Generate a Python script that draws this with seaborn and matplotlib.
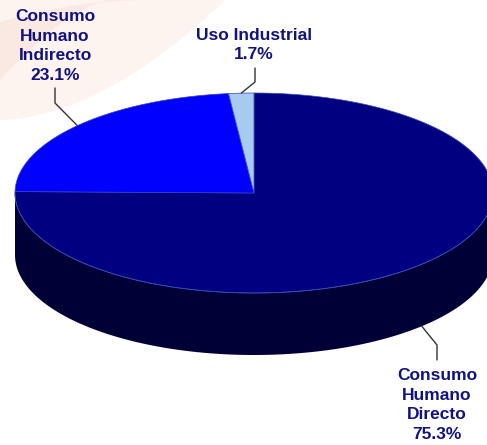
import numpy as np
import matplotlib
matplotlib.use("Agg")
import matplotlib.pyplot as plt
from matplotlib.patches import Polygon
import seaborn as sns

# Destino de la producción (participación %)
categories = ["Consumo Humano Directo", "Consumo Humano Indirecto", "Uso Industrial"]
label_lines = [["Consumo", "Humano", "Directo"],
               ["Consumo", "Humano", "Indirecto"],
               ["Uso Industrial"]]
shares = [75.3, 23.1, 1.7]

sns.set_theme(style="white")
plt.rcParams["font.family"] = ["Liberation Sans", "DejaVu Sans"]

top_colors = sns.color_palette(["#000080", "#0000FF", "#A6CAF0"])
side_colors = [tuple(c * 0.42 for c in col) for col in top_colors]
text_color = "#12127E"

W, H = 487, 445
fig = plt.figure(figsize=(W / 100, H / 100), dpi=100)
ax = fig.add_axes([0, 0, 1, 1])
ax.set_xlim(0, W)
ax.set_ylim(H, 0)
ax.axis("off")

# faint decorative swoosh in the background
t = np.linspace(0, 1, 80)
edge = np.column_stack([225 * (1 - t), 120 * (1 - (1 - t) ** 1.8)])
outer = np.vstack([[[0, 0]], edge])
ax.add_patch(Polygon(outer, closed=True, facecolor="#FDF3EF", lw=0, zorder=0))
inner_top = np.column_stack([150 * t, 22 * (1 - t) ** 2])
inner_bot = np.column_stack([110 * t[::-1], 80 * (1 - t[::-1]) ** 1.5])
ax.add_patch(Polygon(np.vstack([inner_top, inner_bot]), closed=True,
                     facecolor="#FAE9E3", lw=0, zorder=0))

# 3D pie geometry (pixel units, y downwards)
cx, cy = 254, 193
rx, ry = 239, 100
depth = 62


def rim(theta_deg, dy=0.0):
    th = np.radians(theta_deg)
    return cx + rx * np.sin(th), cy + dy - ry * np.cos(th)


fracs = np.array(shares) / np.sum(shares)
bounds = np.concatenate([[0], np.cumsum(fracs) * 360])

# side walls (visible between 90° and 270°, clockwise from 12 o'clock)
for i in range(len(shares)):
    a0, a1 = max(bounds[i], 90), min(bounds[i + 1], 270)
    if a1 <= a0:
        continue
    th = np.linspace(a0, a1, 200)
    upper = np.column_stack(rim(th))
    lower = np.column_stack(rim(th[::-1], depth))
    ax.add_patch(Polygon(np.vstack([upper, lower]), closed=True,
                         facecolor=side_colors[i], edgecolor="none", zorder=1))

# top faces
for i in range(len(shares)):
    th = np.linspace(bounds[i], bounds[i + 1], 300)
    pts = np.vstack([[cx, cy], np.column_stack(rim(th))])
    ax.add_patch(Polygon(pts, closed=True, facecolor=top_colors[i],
                         edgecolor="#3545B5", linewidth=0.5, zorder=2))

# front rim highlight
th = np.linspace(90, 270, 300)
ax.plot(*rim(th), color="#3545B5", lw=0.6, zorder=3)

# labels with elbow leader lines
mids = (bounds[:-1] + bounds[1:]) / 2
label_pos = [(437, 405), (55, 46), (254, 45)]
elbows = [((437, 345), (437, 360)), ((55, 103), (55, 88)), ((255, 82), (255, 68))]
for i in range(len(shares)):
    if 90 < mids[i] < 270:
        ax0, ay0 = rim(mids[i], depth)
    else:
        ax0, ay0 = rim(mids[i])
    (ex, ey), (lx, ly) = elbows[i]
    ax.plot([ax0, ex, lx], [ay0, ey, ly], color="#333333", lw=1.0, zorder=4)
    txt = "\n".join(label_lines[i] + [f"{shares[i]:.1f}%"])
    ax.text(label_pos[i][0], label_pos[i][1], txt, ha="center", va="center",
            multialignment="center", fontsize=12.5, fontweight="bold",
            color=text_color, linespacing=1.4, zorder=5)

fig.savefig("out.png", dpi=100, facecolor="white")
